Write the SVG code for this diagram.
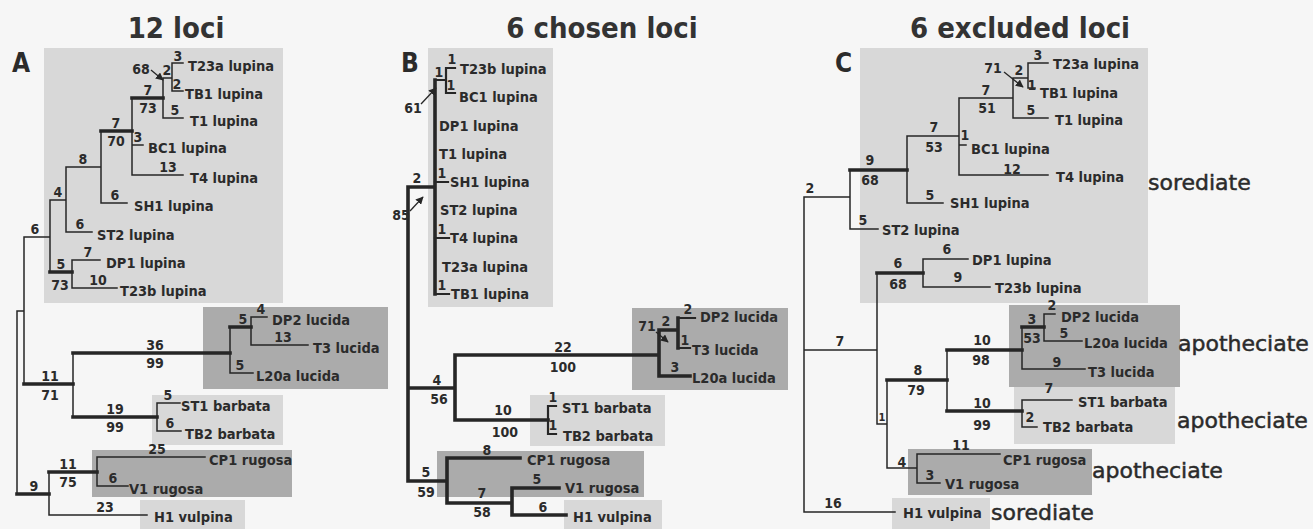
<svg xmlns="http://www.w3.org/2000/svg" width="1313" height="529" viewBox="0 0 1313 529">
<style>
.t{fill:none;stroke:#262626;stroke-width:1.5;stroke-linecap:square}
.m{fill:none;stroke:#262626;stroke-width:2.2;stroke-linecap:square}
.k{fill:none;stroke:#262626;stroke-width:3.6;stroke-linecap:square}
.ar{fill:none;stroke:#262626;stroke-width:1.3}
text{font-family:'DejaVu Sans Condensed','DejaVu Sans',sans-serif;font-weight:bold;fill:#2b2b2b}
.tx{font-size:14.5px}
.n{font-size:14px;text-anchor:middle}
.s{font-size:11px;text-anchor:middle}
.ti{font-size:29px;text-anchor:middle;fill:#333}
.pl{font-size:26px}
.tr{font-family:'DejaVu Sans',sans-serif;font-weight:normal;font-size:22px;fill:#2b2b2b;stroke:#2b2b2b;stroke-width:0.5}
.bl{fill:#d8d8d8}
.bd{fill:#ababab}
</style>
<defs>
<marker id="ah" viewBox="0 0 10 10" refX="9" refY="5" markerWidth="6" markerHeight="6" orient="auto">
<path d="M0,0L10,5L0,10z" fill="#262626"/>
</marker>
</defs>
<rect width="1313" height="529" fill="#f6f6f6"/>

<!-- ================= PANEL A ================= -->
<g id="panelA">
<g id="A-boxes">
<rect class="bl" x="44" y="48" width="239" height="255"/>
<rect class="bd" x="203" y="307" width="185" height="82"/>
<rect class="bl" x="152" y="395" width="131" height="50"/>
<rect class="bd" x="92" y="450" width="200" height="47"/>
<rect class="bl" x="140" y="500" width="105" height="29"/>
</g>
<text class="ti" x="176" y="38">12 loci</text>
<text class="pl" x="12" y="72">A</text>
<g id="A-connectors">
<path class="t" d="M172,63H183 M172,63V91H183 M163,78H172 M163,78V118H183 M132,98V175H183 M132,145H143 M101,131V203H127 M66,167H101 M66,167V232H92 M50,200H66 M50,200V272 M72,260V288 M72,260H100 M72,288H117 M24,237H50 M24,237V384 M17,311H24 M17,311V494 M73,353V417 M230,327V373H253 M251,317V345 M251,317H267 M251,345H308 M157,403V431 M157,403H180 M157,431H181 M49,472V515H147 M97,457V486 M97,457H205 M97,486H128"/>
<path class="k" d="M132,98H163 M101,131H132 M50,272H72 M24,384H73 M73,353H230 M230,327H251 M73,417H157 M17,494H49 M49,472H97"/>
<path class="ar" d="M151,70L163,80" marker-end="url(#ah)"/>
</g>
<g id="A-support">
<text class="n" x="178" y="61">3</text>
<text class="n" x="167" y="75">2</text>
<text class="n" x="177" y="89">2</text>
<text class="n" x="141" y="74">68</text>
<text class="n" x="148" y="95">7</text>
<text class="n" x="148" y="113">73</text>
<text class="n" x="175" y="115">5</text>
<text class="n" x="116" y="128">7</text>
<text class="n" x="116" y="146">70</text>
<text class="n" x="138" y="142">3</text>
<text class="n" x="168" y="172">13</text>
<text class="n" x="83" y="164">8</text>
<text class="n" x="115" y="200">6</text>
<text class="n" x="58" y="197">4</text>
<text class="n" x="80" y="229">6</text>
<text class="n" x="35" y="234">6</text>
<text class="n" x="88" y="257">7</text>
<text class="n" x="61" y="269">5</text>
<text class="n" x="60" y="290">73</text>
<text class="n" x="98" y="285">10</text>
<text class="n" x="155" y="350">36</text>
<text class="n" x="155" y="368">99</text>
<text class="n" x="243" y="324">5</text>
<text class="n" x="261" y="314">4</text>
<text class="n" x="283" y="342">13</text>
<text class="n" x="240" y="370">5</text>
<text class="n" x="50" y="381">11</text>
<text class="n" x="50" y="400">71</text>
<text class="n" x="115" y="414">19</text>
<text class="n" x="115" y="432">99</text>
<text class="n" x="168" y="400">5</text>
<text class="n" x="170" y="428">6</text>
<text class="n" x="157" y="454">25</text>
<text class="n" x="34" y="491">9</text>
<text class="n" x="68" y="469">11</text>
<text class="n" x="68" y="487">75</text>
<text class="n" x="113" y="483">6</text>
<text class="n" x="105" y="512">23</text>
</g>
<g id="A-T23a"><text class="tx" x="188" y="71">T23a lupina</text></g>
<g id="A-TB1"><text class="tx" x="185" y="99">TB1 lupina</text></g>
<g id="A-T1"><text class="tx" x="190" y="126">T1 lupina</text></g>
<g id="A-BC1"><text class="tx" x="148" y="153">BC1 lupina</text></g>
<g id="A-T4"><text class="tx" x="190" y="183">T4 lupina</text></g>
<g id="A-SH1"><text class="tx" x="134" y="211">SH1 lupina</text></g>
<g id="A-ST2"><text class="tx" x="97" y="240">ST2 lupina</text></g>
<g id="A-DP1"><text class="tx" x="106" y="268">DP1 lupina</text></g>
<g id="A-T23b"><text class="tx" x="120" y="296">T23b lupina</text></g>
<g id="A-DP2"><text class="tx" x="272" y="325">DP2 lucida</text></g>
<g id="A-T3"><text class="tx" x="313" y="353">T3 lucida</text></g>
<g id="A-L20a"><text class="tx" x="256" y="381">L20a lucida</text></g>
<g id="A-ST1"><text class="tx" x="181" y="411">ST1 barbata</text></g>
<g id="A-TB2"><text class="tx" x="185" y="439">TB2 barbata</text></g>
<g id="A-CP1"><text class="tx" x="209" y="465">CP1 rugosa</text></g>
<g id="A-V1"><text class="tx" x="129" y="494">V1 rugosa</text></g>
<g id="A-H1"><text class="tx" x="154" y="522">H1 vulpina</text></g>
</g>

<!-- ================= PANEL B ================= -->
<g id="panelB">
<g id="B-boxes">
<rect class="bl" x="428" y="48" width="125" height="259"/>
<rect class="bd" x="632" y="308" width="156" height="82"/>
<rect class="bl" x="530" y="395" width="135" height="51"/>
<rect class="bd" x="437" y="451" width="207" height="46"/>
<rect class="bl" x="564" y="500" width="98" height="29"/>
</g>
<text class="ti" x="602" y="38">6 chosen loci</text>
<text class="pl" x="401" y="72">B</text>
<g id="B-connectors">
<path class="k" d="M408,187V481 M408,187H435 M435,80V294 M408,388H455 M455,355V420 M455,355H659 M455,420H548 M408,481H447 M447,458V503 M447,458H520 M447,503H512 M512,488V515 M512,488H559 M512,515H566 M659,330V376 M659,330H678 M678,318V348 M659,376H690"/>
<path class="m" d="M446,68V93 M446,68H455 M446,93H455 M435,80H446 M435,182H448 M435,238H449 M435,294H449 M548,406V434 M548,406H556 M548,434H556 M678,318H695 M678,348H690"/>
<path class="ar" d="M421,104L436,88" marker-end="url(#ah)"/>
<path class="ar" d="M410,211L423,197" marker-end="url(#ah)"/>
<path class="ar" d="M656,332L668,342" marker-end="url(#ah)"/>
</g>
<g id="B-support">
<text class="n" x="452" y="64">1</text>
<text class="n" x="439" y="77">1</text>
<text class="n" x="451" y="90">1</text>
<text class="n" x="413" y="113">61</text>
<text class="n" x="442" y="178">1</text>
<text class="n" x="417" y="183">2</text>
<text class="n" x="401" y="220">85</text>
<text class="n" x="442" y="234">1</text>
<text class="n" x="442" y="290">1</text>
<text class="n" x="437" y="385">4</text>
<text class="n" x="439" y="404">56</text>
<text class="n" x="563" y="352">22</text>
<text class="n" x="563" y="372">100</text>
<text class="n" x="503" y="415">10</text>
<text class="n" x="505" y="437">100</text>
<text class="n" x="553" y="402">1</text>
<text class="n" x="553" y="430">1</text>
<text class="n" x="426" y="477">5</text>
<text class="n" x="426" y="497">59</text>
<text class="n" x="487" y="455">8</text>
<text class="n" x="482" y="498">7</text>
<text class="n" x="482" y="517">58</text>
<text class="n" x="537" y="484">5</text>
<text class="n" x="543" y="512">6</text>
<text class="n" x="647" y="331">71</text>
<text class="n" x="666" y="326">2</text>
<text class="n" x="688" y="314">2</text>
<text class="n" x="685" y="345">1</text>
<text class="n" x="675" y="372">3</text>
</g>
<g id="B-T23b"><text class="tx" x="460" y="74">T23b lupina</text></g>
<g id="B-BC1"><text class="tx" x="459" y="102">BC1 lupina</text></g>
<g id="B-DP1"><text class="tx" x="439" y="131">DP1 lupina</text></g>
<g id="B-T1"><text class="tx" x="439" y="159">T1 lupina</text></g>
<g id="B-SH1"><text class="tx" x="450" y="187">SH1 lupina</text></g>
<g id="B-ST2"><text class="tx" x="440" y="215">ST2 lupina</text></g>
<g id="B-T4"><text class="tx" x="450" y="243">T4 lupina</text></g>
<g id="B-T23a"><text class="tx" x="442" y="272">T23a lupina</text></g>
<g id="B-TB1"><text class="tx" x="451" y="299">TB1 lupina</text></g>
<g id="B-DP2"><text class="tx" x="700" y="322">DP2 lucida</text></g>
<g id="B-T3"><text class="tx" x="692" y="355">T3 lucida</text></g>
<g id="B-L20a"><text class="tx" x="692" y="383">L20a lucida</text></g>
<g id="B-ST1"><text class="tx" x="562" y="413">ST1 barbata</text></g>
<g id="B-TB2"><text class="tx" x="563" y="441">TB2 barbata</text></g>
<g id="B-CP1"><text class="tx" x="527" y="465">CP1 rugosa</text></g>
<g id="B-V1"><text class="tx" x="565" y="493">V1 rugosa</text></g>
<g id="B-H1"><text class="tx" x="573" y="522">H1 vulpina</text></g>
</g>

<!-- ================= PANEL C ================= -->
<g id="panelC">
<g id="C-boxes">
<rect class="bl" x="860" y="48" width="288" height="255"/>
<rect class="bd" x="1009" y="305" width="171" height="82"/>
<rect class="bl" x="1014" y="387" width="161" height="57"/>
<rect class="bd" x="908" y="449" width="184" height="46"/>
<rect class="bl" x="892" y="498" width="98" height="31"/>
</g>
<text class="ti" x="1020" y="38">6 excluded loci</text>
<text class="pl" x="835" y="72">C</text>
<g id="C-connectors">
<path class="t" d="M804,197V512H895 M804,197H850 M850,170V229H878 M804,350H877 M877,273V424 M877,424H887 M887,380V468 M907,136V203H943 M907,136H959 M959,98V175H1048 M959,145H966 M959,98H1013 M1013,78V118H1048 M1013,78H1028 M1028,63V88H1035 M1028,63H1048 M923,259V287 M923,259H968 M923,287H990 M947,350V411 M1022,327V369H1085 M1044,314V341 M1044,314H1055 M1044,341H1082 M1022,400V427 M1022,400H1072 M1022,427H1037 M887,468H917 M917,454V483 M917,454H1000 M917,483H940"/>
<path class="k" d="M850,170H907 M877,273H923 M887,380H947 M947,350H1022 M1022,327H1044 M947,411H1022"/>
<path class="ar" d="M1004,72L1023,87" marker-end="url(#ah)"/>
</g>
<g id="C-support">
<text class="n" x="1038" y="60">3</text>
<text class="n" x="1019" y="75">2</text>
<text class="n" x="1032" y="90">1</text>
<text class="n" x="993" y="73">71</text>
<text class="n" x="986" y="95">7</text>
<text class="n" x="987" y="113">51</text>
<text class="n" x="1031" y="115">5</text>
<text class="n" x="965" y="140">1</text>
<text class="n" x="1012" y="174">12</text>
<text class="n" x="934" y="132">7</text>
<text class="n" x="934" y="152">53</text>
<text class="n" x="930" y="200">5</text>
<text class="n" x="870" y="165">9</text>
<text class="n" x="870" y="185">68</text>
<text class="n" x="810" y="193">2</text>
<text class="n" x="863" y="225">5</text>
<text class="n" x="898" y="268">6</text>
<text class="n" x="898" y="289">68</text>
<text class="n" x="947" y="254">6</text>
<text class="n" x="958" y="282">9</text>
<text class="n" x="840" y="346">7</text>
<text class="n" x="1052" y="310">2</text>
<text class="n" x="1032" y="324">3</text>
<text class="n" x="1032" y="343">53</text>
<text class="n" x="1064" y="338">5</text>
<text class="n" x="982" y="345">10</text>
<text class="n" x="981" y="365">98</text>
<text class="n" x="1057" y="367">9</text>
<text class="n" x="918" y="375">8</text>
<text class="n" x="916" y="395">79</text>
<text class="n" x="982" y="408">10</text>
<text class="n" x="982" y="430">99</text>
<text class="n" x="1049" y="393">7</text>
<text class="n" x="1030" y="422">2</text>
<text class="s" x="882" y="421">1</text>
<text class="n" x="902" y="467">4</text>
<text class="n" x="961" y="450">11</text>
<text class="n" x="930" y="480">3</text>
<text class="n" x="833" y="508">16</text>
</g>
<g id="C-T23a"><text class="tx" x="1053" y="69">T23a lupina</text></g>
<g id="C-TB1"><text class="tx" x="1040" y="98">TB1 lupina</text></g>
<g id="C-T1"><text class="tx" x="1055" y="125">T1 lupina</text></g>
<g id="C-BC1"><text class="tx" x="971" y="154">BC1 lupina</text></g>
<g id="C-T4"><text class="tx" x="1056" y="182">T4 lupina</text></g>
<g id="C-SH1"><text class="tx" x="950" y="208">SH1 lupina</text></g>
<g id="C-ST2"><text class="tx" x="882" y="235">ST2 lupina</text></g>
<g id="C-DP1"><text class="tx" x="972" y="265">DP1 lupina</text></g>
<g id="C-T23b"><text class="tx" x="995" y="293">T23b lupina</text></g>
<g id="C-DP2"><text class="tx" x="1061" y="322">DP2 lucida</text></g>
<g id="C-L20a"><text class="tx" x="1084" y="348">L20a lucida</text></g>
<g id="C-T3"><text class="tx" x="1088" y="377">T3 lucida</text></g>
<g id="C-ST1"><text class="tx" x="1078" y="407">ST1 barbata</text></g>
<g id="C-TB2"><text class="tx" x="1043" y="432">TB2 barbata</text></g>
<g id="C-CP1"><text class="tx" x="1003" y="465">CP1 rugosa</text></g>
<g id="C-V1"><text class="tx" x="945" y="489">V1 rugosa</text></g>
<g id="C-H1"><text class="tx" x="903" y="518">H1 vulpina</text></g>
<g id="C-traits">
<text class="tr" x="1148" y="190">sorediate</text>
<text class="tr" x="1178" y="351">apotheciate</text>
<text class="tr" x="1177" y="428">apotheciate</text>
<text class="tr" x="1092" y="478">apotheciate</text>
<text class="tr" x="991" y="520">sorediate</text>
</g>
</g>
</svg>
